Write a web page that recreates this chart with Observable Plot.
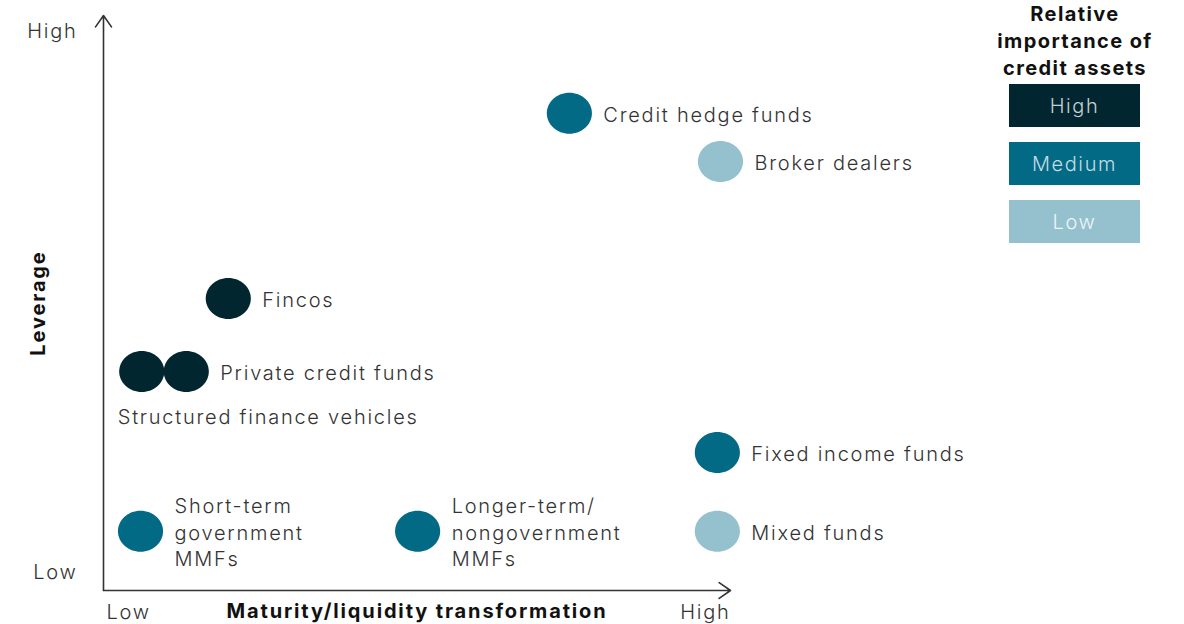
<!DOCTYPE html>
<html>
<head>
<meta charset="utf-8">
<script src="https://cdn.jsdelivr.net/npm/d3@7"></script>
<script src="https://cdn.jsdelivr.net/npm/@observablehq/plot@0.6"></script>
<style>
  html, body { margin: 0; padding: 0; background: #fff; }
  #wrap { position: relative; width: 1184px; height: 624px; font-family: Inter, "Noto Sans", sans-serif; }
  #legend { position: absolute; left: 975px; top: 0; width: 200px; }
  #legend .title { text-align: center; font-weight: 700; font-size: 20px; line-height: 27px; color: #111; letter-spacing: 1.4px; margin-top: 1px; }
  #legend .box { width: 131px; height: 43px; margin-left: 34px; margin-top: 15px; display: flex; align-items: center; justify-content: center; font-size: 20px; font-weight: 300; letter-spacing: 1.6px; }
  #legend .box:first-of-type { margin-top: 0; }
  svg text { letter-spacing: 1.75px; }
  svg text.bold { letter-spacing: 1.85px; }
</style>
</head>
<body>
<div id="wrap"><div id="chart"></div><div id="legend"></div></div>
<script>
// ---- data ----
const names = [
  "Credit hedge funds", "Broker dealers", "Fincos", "Structured finance vehicles",
  "Private credit funds", "Fixed income funds", "Mixed funds",
  "Short-term\ngovernment\nMMFs", "Longer-term/\nnongovernment\nMMFs"
];
const transformation = [74.3, 98.4, 19.9, 6.1, 13.2, 97.9, 97.9, 5.9, 50.1];
const leverage = [83.0, 74.6, 50.8, 38.1, 38.1, 24.0, 10.3, 10.3, 10.3];
const importance = ["Medium", "Low", "High", "High", "High", "Medium", "Low", "Medium", "Medium"];
const levels = ["High", "Medium", "Low"];
const levelColors = ["#02262f", "#026a85", "#94c1cd"];
const levelTextColors = ["#c3d1d4", "#c4dce2", "#eef5f7"];
const axisTickLabels = ["Low", "High"];
const xTicks = [4, 96];
const yTicks = [3.1, 97.2];
const xTitle = "Maturity/liquidity transformation";
const yTitle = "Leverage";
const legendTitle = "Relative importance of credit assets";

const data = names.map((n, i) => ({name: n, x: transformation[i], y: leverage[i], imp: importance[i]}));
const besideLabels = data.filter(d => d.name !== "Structured finance vehicles");
const belowLabels = data.filter(d => d.name === "Structured finance vehicles");

// ellipse symbol (slightly wider than tall)
const ellipse = {
  draw(context, size) {
    const r = Math.sqrt(size / Math.PI);
    const rx = r * 1.1, ry = r;
    const k = 0.5523;
    context.moveTo(rx, 0);
    context.bezierCurveTo(rx, k * ry, k * rx, ry, 0, ry);
    context.bezierCurveTo(-k * rx, ry, -rx, k * ry, -rx, 0);
    context.bezierCurveTo(-rx, -k * ry, -k * rx, -ry, 0, -ry);
    context.bezierCurveTo(k * rx, -ry, rx, -k * ry, rx, 0);
    context.closePath();
  }
};

const ink = "#333";
const chart = Plot.plot({
  width: 1184,
  height: 624,
  marginLeft: 103,
  marginRight: 454,
  marginTop: 15,
  marginBottom: 34,
  style: {fontFamily: "Inter, 'Noto Sans', sans-serif", fontSize: "20px", color: ink, background: "transparent"},
  x: {domain: [0, 100]},
  y: {domain: [0, 100]},
  color: {domain: levels, range: levelColors},
  marks: [
    Plot.axisX({ticks: xTicks, tickFormat: d => d < 50 ? axisTickLabels[0] : axisTickLabels[1], tickSize: 0, tickPadding: 14, label: null, fill: ink, fontSize: 20, fontWeight: 300}),
    Plot.axisY({ticks: yTicks, tickFormat: d => d < 50 ? axisTickLabels[0] : axisTickLabels[1], tickSize: 0, tickPadding: 26, label: null, fill: ink, fontSize: 20, fontWeight: 300}),
    Plot.arrow([0], {x1: 0, y1: 0, x2: 0, y2: 100, bend: 0, headLength: 13, headAngle: 70, stroke: ink, strokeWidth: 1.6}),
    Plot.arrow([0], {x1: 0, y1: 0, x2: 100, y2: 0, bend: 0, headLength: 13, headAngle: 70, stroke: ink, strokeWidth: 1.6}),
    Plot.text([xTitle], {frameAnchor: "bottom", dy: 27, fontWeight: 700, fontSize: 20, fill: "#111", className: "bold"}),
    Plot.text([yTitle], {frameAnchor: "left", textAnchor: "middle", dx: -65, rotate: -90, fontWeight: 700, fontSize: 20, fill: "#111", className: "bold"}),
    Plot.dot(data, {x: "x", y: "y", fill: "imp", r: 20.5, symbol: ellipse}),
    Plot.text(besideLabels, {x: "x", y: "y", text: "name", dx: 34, textAnchor: "start", lineHeight: 1.33, fontSize: 20, fontWeight: 300, fill: ink}),
    Plot.text(belowLabels, {x: "x", y: "y", text: "name", dx: -24, dy: 46, textAnchor: "start", fontSize: 20, fontWeight: 300, fill: ink})
  ]
});
chart.querySelectorAll("g.bold text").forEach(el => el.classList.add("bold"));
document.getElementById("chart").appendChild(chart);

// legend
const legend = document.getElementById("legend");
const t = document.createElement("div");
t.className = "title";
t.innerHTML = "Relative<br>importance of<br>credit assets";
t.setAttribute("aria-label", legendTitle);
legend.appendChild(t);
const boxes = document.createElement("div");
boxes.style.marginTop = "2px";
levels.forEach((lv, i) => {
  const b = document.createElement("div");
  b.className = "box";
  b.style.background = levelColors[i];
  b.style.color = levelTextColors[i];
  b.textContent = lv;
  boxes.appendChild(b);
});
legend.appendChild(boxes);
</script>
</body>
</html>
